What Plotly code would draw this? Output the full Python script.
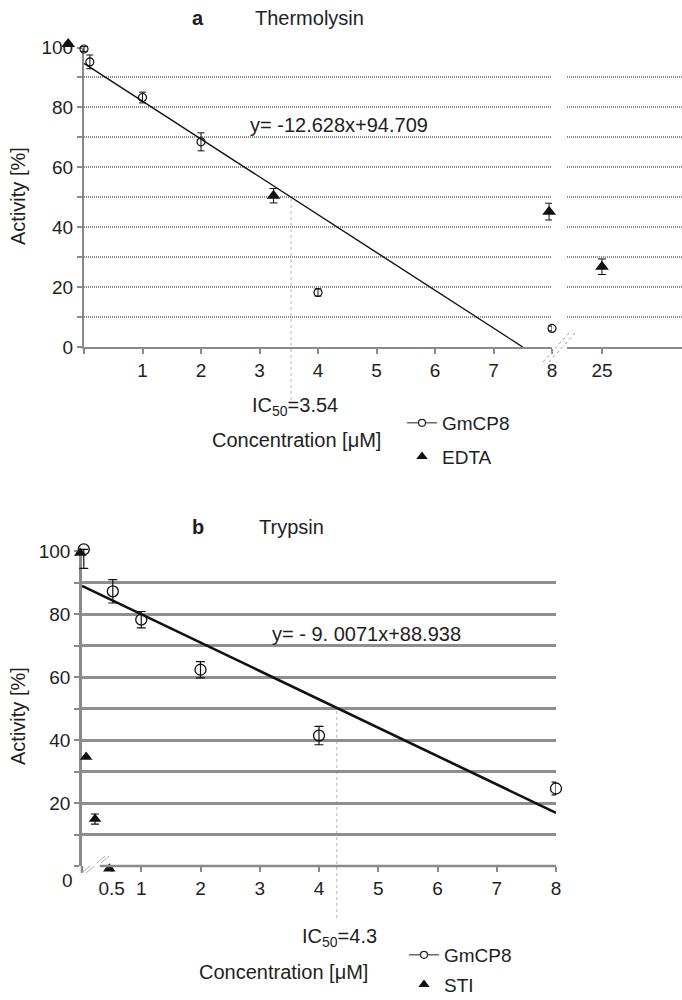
import plotly.graph_objects as go

W, H = 682, 1000


def px_x(p):
    return p / W


def px_y(p):
    return 1 - p / H


FONT = "Liberation Sans, Arial, sans-serif"
TXT = "#1e1e1e"
AX = "#8a8a8a"

# ---------------- data: panel a (Thermolysin) ----------------
gm_a_x = [0.0, 0.1, 1, 2, 4, 8]
gm_a_y = [99.5, 95.2, 83.3, 68.5, 18.2, 6.2]
gm_a_err = [0.8, 2.3, 1.8, 3.0, 1.2, 0.8]

edta_x = [-0.27, 3.24, 7.95]
edta_y = [101.2, 50.5, 45.2]
edta_err = [0, 2.4, 2.8]
edta_hi_x = [25]
edta_hi_y = [26.8]
edta_hi_err = [2.6]

fit_a_x = [0, 7.5]
fit_a_y = [94.709, 0.0]
ic50_a = 3.54

a_xticks = [1, 2, 3, 4, 5, 6, 7, 8]
a_x2ticks = [25]
y_major = [0, 20, 40, 60, 80, 100]

# ---------------- data: panel b (Trypsin) ----------------
gm_b_x = [0.03, 0.52, 1, 2, 4, 8]
gm_b_y = [100.5, 87.2, 78.2, 62.3, 41.4, 24.6]
gm_b_err_plus = [0, 3.7, 2.6, 2.6, 2.9, 2.0]
gm_b_err_minus = [6.0, 3.7, 2.6, 2.6, 2.9, 2.0]

sti_x = [-0.03, 0.07, 0.22, 0.46]
sti_y = [99.4, 34.6, 14.9, -0.9]
sti_err = [0, 0, 1.6, 0]

fit_b_x = [0, 8]
fit_b_y = [88.938, 16.881]
ic50_b = 4.3

b_xticks = [0.5, 1, 2, 3, 4, 5, 6, 7, 8]
b_xtick_text = ["0.5", "1", "2", "3", "4", "5", "6", "7", "8"]
b_y_major = [20, 40, 60, 80, 100]

# ---------------- geometry (pixels) ----------------
A_X0, A_X1, A_XMAX = 84, 552, 8.0          # panel a, left part
A_Y0, A_Y1 = 347, 47.5                     # y=0, y=100
B_X0, B_X1, B_XMAX = 82, 556, 8.0
B_Y0, B_Y1 = 866, 551
a_kx = (A_X1 - A_X0) / A_XMAX
a_ky = (A_Y0 - A_Y1) / 100
b_kx = (B_X1 - B_X0) / B_XMAX
b_ky = (B_Y0 - B_Y1) / 100

fig = go.Figure()

# ---- panel a traces ----
fig.add_trace(go.Scatter(x=fit_a_x, y=fit_a_y, mode="lines",
                         line=dict(color="#111", width=1.4),
                         xaxis="x", yaxis="y", showlegend=False, hoverinfo="skip"))
fig.add_trace(go.Scatter(x=gm_a_x, y=gm_a_y, mode="markers",
                         marker=dict(symbol="circle-open", size=8, color="#111",
                                     line=dict(width=1.2, color="#111")),
                         error_y=dict(type="data", array=gm_a_err, color="#111",
                                      thickness=1, width=3.5),
                         xaxis="x4", yaxis="y3", showlegend=False, cliponaxis=False))
fig.add_trace(go.Scatter(x=edta_x, y=edta_y, mode="markers",
                         marker=dict(symbol="triangle-up", size=12, color="#111"),
                         error_y=dict(type="data", array=edta_err, color="#111",
                                      thickness=1, width=4),
                         xaxis="x4", yaxis="y3", showlegend=False, cliponaxis=False))
fig.add_trace(go.Scatter(x=edta_hi_x, y=edta_hi_y, mode="markers",
                         marker=dict(symbol="triangle-up", size=12, color="#111"),
                         error_y=dict(type="data", array=edta_hi_err, color="#111",
                                      thickness=1, width=4),
                         xaxis="x2", yaxis="y", showlegend=False, cliponaxis=False))

# ---- panel b traces ----
fig.add_trace(go.Scatter(x=fit_b_x, y=fit_b_y, mode="lines",
                         line=dict(color="#111", width=2.6),
                         xaxis="x3", yaxis="y2", showlegend=False, hoverinfo="skip"))
fig.add_trace(go.Scatter(x=gm_b_x, y=gm_b_y, mode="markers",
                         marker=dict(symbol="circle-open", size=11, color="#111",
                                     line=dict(width=1.3, color="#111")),
                         error_y=dict(type="data", symmetric=False, array=gm_b_err_plus,
                                      arrayminus=gm_b_err_minus, color="#111",
                                      thickness=1.2, width=4.5),
                         xaxis="x5", yaxis="y4", showlegend=False, cliponaxis=False))
fig.add_trace(go.Scatter(x=sti_x, y=sti_y, mode="markers",
                         marker=dict(symbol="triangle-up", size=11, color="#111"),
                         error_y=dict(type="data", array=sti_err, color="#111",
                                      thickness=1.2, width=4),
                         xaxis="x5", yaxis="y4", showlegend=False, cliponaxis=False))

# ---- legend entries ----
fig.add_trace(go.Scatter(x=[None], y=[None], mode="lines+markers", name="GmCP8",
                         line=dict(color="#222", width=1),
                         marker=dict(symbol="circle", size=7, color="white",
                                     line=dict(width=1.2, color="#222")),
                         legend="legend", legendgroup="a1", xaxis="x", yaxis="y"))
fig.add_trace(go.Scatter(x=[None], y=[None], mode="markers", name="EDTA",
                         marker=dict(symbol="triangle-up", size=10, color="#111"),
                         legend="legend", legendgroup="a2", xaxis="x", yaxis="y"))
fig.add_trace(go.Scatter(x=[None], y=[None], mode="lines+markers", name="GmCP8",
                         line=dict(color="#222", width=1),
                         marker=dict(symbol="circle", size=7, color="white",
                                     line=dict(width=1.2, color="#222")),
                         legend="legend2", legendgroup="b1", xaxis="x3", yaxis="y2"))
fig.add_trace(go.Scatter(x=[None], y=[None], mode="markers", name="STI",
                         marker=dict(symbol="triangle-up", size=10, color="#111"),
                         legend="legend2", legendgroup="b2", xaxis="x3", yaxis="y2"))

tickfont = dict(family=FONT, size=19, color=TXT)

common_x = dict(showgrid=False, zeroline=False, ticks="outside", ticklen=5,
                tickcolor=AX, tickwidth=1.5, tickfont=tickfont, fixedrange=True)
hidden = dict(visible=False, showgrid=False, zeroline=False, fixedrange=True)

# extended (hidden) axes with identical scale, so marks just outside the
# visible frame are not dropped
EXT = 40
fig.update_layout(
    width=W, height=H, template="none",
    margin=dict(l=0, r=0, t=0, b=0, autoexpand=False),
    paper_bgcolor="white", plot_bgcolor="rgba(0,0,0,0)",
    font=dict(family=FONT, size=19, color=TXT),
    xaxis=dict(domain=[px_x(A_X0), px_x(A_X1)], range=[0, A_XMAX], anchor="y",
               tickmode="array", tickvals=a_xticks,
               minor=dict(tickvals=[0], ticks="outside", ticklen=5, tickcolor=AX),
               showline=True, linecolor=AX, linewidth=2, **common_x),
    xaxis2=dict(domain=[px_x(567), 1], range=[24, 27.29], anchor="y",
                tickmode="array", tickvals=a_x2ticks,
                showline=True, linecolor=AX, linewidth=2, **common_x),
    yaxis=dict(domain=[px_y(A_Y0), px_y(A_Y1)], range=[0, 100], anchor="x",
               tickmode="array", tickvals=y_major,
               minor=dict(dtick=10, tick0=0, ticks="outside", ticklen=5, tickcolor=AX,
                          showgrid=True, gridcolor="#8c8c8c", gridwidth=1.5,
                          griddash="1px,1px"),
               showline=True, linecolor=AX, linewidth=2, ticks="outside", ticklen=5,
               tickcolor=AX, tickwidth=1.5, tickfont=tickfont, zeroline=False,
               showgrid=True, gridcolor="#8c8c8c", gridwidth=1.5, griddash="1px,1px",
               fixedrange=True),
    xaxis4=dict(domain=[px_x(A_X0 - EXT), px_x(A_X1)],
                range=[-EXT / a_kx, A_XMAX], anchor="y3", **hidden),
    yaxis3=dict(domain=[px_y(A_Y0 + EXT), px_y(A_Y1 - EXT)],
                range=[-EXT / a_ky, 100 + EXT / a_ky], anchor="x4", **hidden),
    xaxis3=dict(domain=[px_x(B_X0), px_x(B_X1)], range=[0, B_XMAX], anchor="y2",
                tickmode="array", tickvals=b_xticks, ticktext=b_xtick_text,
                minor=dict(tickvals=[0], ticks="outside", ticklen=5, tickcolor=AX),
                showline=False, **common_x),
    yaxis2=dict(domain=[px_y(B_Y0), px_y(B_Y1)], range=[0, 100], anchor="x3",
                tickmode="array", tickvals=b_y_major,
                minor=dict(dtick=10, tick0=0, ticks="outside", ticklen=5, tickcolor=AX,
                           showgrid=True, gridcolor="#8e8e8e", gridwidth=2.5),
                showline=True, linecolor=AX, linewidth=2.5, ticks="outside", ticklen=5,
                tickcolor=AX, tickwidth=1.5, tickfont=tickfont, zeroline=False,
                showgrid=True, gridcolor="#8e8e8e", gridwidth=2.5,
                fixedrange=True),
    xaxis5=dict(domain=[px_x(B_X0 - EXT), px_x(B_X1)],
                range=[-EXT / b_kx, B_XMAX], anchor="y4", **hidden),
    yaxis4=dict(domain=[px_y(B_Y0 + EXT), px_y(B_Y1 - EXT)],
                range=[-EXT / b_ky, 100 + EXT / b_ky], anchor="x5", **hidden),
    legend=dict(x=px_x(402), y=px_y(404), xanchor="left", yanchor="top",
                bgcolor="rgba(0,0,0,0)", font=dict(family=FONT, size=19, color=TXT),
                tracegroupgap=6),
    legend2=dict(x=px_x(404), y=px_y(936), xanchor="left", yanchor="top",
                 bgcolor="rgba(0,0,0,0)", font=dict(family=FONT, size=19, color=TXT),
                 tracegroupgap=2),
)

# ---- shapes: IC50 guides, axis line b, break marks ----
ya0, ya1 = px_y(A_Y0), px_y(A_Y1)
yb0, yb1 = px_y(B_Y0), px_y(B_Y1)
shapes = [
    dict(type="line", xref="x", yref="paper", x0=ic50_a, x1=ic50_a,
         y0=px_y(400), y1=ya0 + (ya1 - ya0) * 0.5,
         line=dict(color="#b5b5b5", width=1, dash="dot"), layer="below"),
    dict(type="line", xref="x3", yref="paper", x0=ic50_b, x1=ic50_b,
         y0=px_y(918), y1=yb0 + (yb1 - yb0) * 0.5,
         line=dict(color="#b5b5b5", width=1, dash="dot"), layer="below"),
    # x axis line for panel b (starts after the break)
    dict(type="line", xref="x3", yref="paper", x0=0.3, x1=8, y0=yb0, y1=yb0,
         line=dict(color=AX, width=2.5)),
    # y axis extension below zero for panel b
    dict(type="line", xref="paper", yref="paper", x0=px_x(B_X0), x1=px_x(B_X0),
         y0=px_y(873), y1=yb0, line=dict(color=AX, width=2.5)),
]
# break marks panel a (dotted, double)
for off in (0, 6):
    shapes.append(dict(type="line", xref="paper", yref="paper",
                       x0=px_x(543 + off), y0=px_y(362), x1=px_x(569 + off), y1=px_y(333),
                       line=dict(color="#a0a0a0", width=1, dash="dot")))
# break marks panel b
for (bx, by) in ((82, 873), (97, 863)):
    for off in (0, 4):
        shapes.append(dict(type="line", xref="paper", yref="paper",
                           x0=px_x(bx + off), y0=px_y(by), x1=px_x(bx + off + 8),
                           y1=px_y(by - 7), line=dict(color="#b0b0b0", width=1)))
fig.update_layout(shapes=shapes)


# ---- annotations ----
def ann(text, x, y, size=20, bold=False, angle=0, xanchor="center"):
    return dict(text=("<b>%s</b>" % text) if bold else text, x=px_x(x), y=px_y(y),
                xref="paper", yref="paper", showarrow=False, xanchor=xanchor,
                yanchor="middle", textangle=angle,
                font=dict(family=FONT, size=size, color=TXT))


annotations = [
    ann("a", 198, 18, bold=True),
    ann("Thermolysin", 309, 18),
    ann("Activity [%]", 18, 196, angle=-90),
    ann("y= -12.628x+94.709", 339, 125),
    ann("IC<sub>50</sub>=3.54", 295, 406),
    ann("Concentration [μM]", 296, 440),
    ann("b", 198, 527, bold=True),
    ann("Trypsin", 291, 527),
    ann("Activity [%]", 18, 716, angle=-90),
    ann("y= - 9. 0071x+88.938", 366, 634),
    ann("IC<sub>50</sub>=4.3", 339, 937),
    ann("Concentration [μM]", 283, 972),
    ann("0", 67, 880, size=19),
]
fig.update_layout(annotations=annotations)

fig.write_html("out.html")
